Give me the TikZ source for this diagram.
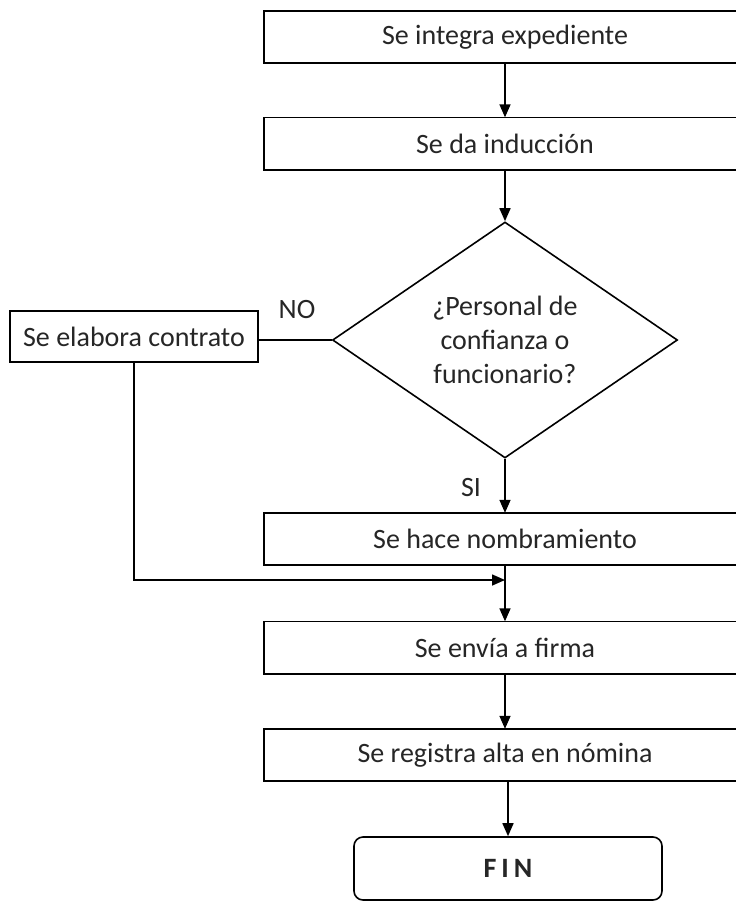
\documentclass[tikz,border=0pt]{standalone}
\usepackage{fontspec}
\setmainfont{Carlito}
\usetikzlibrary{shapes.geometric,arrows.meta}
\begin{document}
\begin{tikzpicture}[x=1pt,y=-1pt,
  every node/.style={font=\fontsize{28}{34}\selectfont, text=black!85},
  procbox/.style={rectangle, minimum width=482pt, minimum height=52pt, inner sep=0pt},
  sidebox/.style={draw, line width=1.6pt, rectangle, minimum width=248pt, minimum height=51pt, inner sep=0pt},
  decision/.style={draw, line width=1.6pt, diamond, minimum width=345pt, minimum height=236pt, inner sep=0pt, aspect=1.46, align=center},
  endbox/.style={draw, line width=1.6pt, rounded corners=9pt, minimum width=308pt, minimum height=63pt, inner sep=0pt},
  flow/.style={line width=1.6pt, -{Triangle[length=13pt,width=11pt]}},
  plain/.style={line width=1.6pt},
  lbl/.style={inner sep=0pt}]
\path[use as bounding box, clip] (0,0) rectangle (736,906);
\fill[white] (0,0) rectangle (736,906);

\node[procbox] (b1) at (505,37) {Se integra expediente};
\node[procbox] (b2) at (505,143.5) {Se da inducción};
\node[decision] (d) at (505,340) {¿Personal de\\confianza o\\funcionario?};
\node[sidebox] (c) at (134,336.5) {Se elabora contrato};
\node[procbox] (b3) at (505,539) {Se hace nombramiento};
\node[procbox] (b4) at (505,647.5) {Se envía a firma};
\node[procbox] (b5) at (505,755) {Se registra alta en nómina};
\node[endbox] (fin) at (508,868.5) {\bfseries F\hspace{5pt}I\hspace{5pt}N};

\foreach \n in {b1,b2,b3,b4,b5}
  \draw[plain] ([xshift=30pt]\n.north east) -- (\n.north west) -- (\n.south west) -- ([xshift=30pt]\n.south east);

\node[lbl] (no) at (297,310) {NO};
\node[lbl] (si) at (471,488) {SI};

\coordinate (j) at (505,580);

\draw[flow] (b1) -- (b2);
\draw[flow] (b2) -- (d);
\draw[plain] (d.west) -- (d.west -| c.east);
\draw[flow] (d) -- (b3);
\draw[flow] (b3) -- (b4);
\draw[flow] (c.south) |- (j);
\draw[flow] (b4) -- (b5);
\draw[flow] (b5.south -| fin.north) -- (fin);
\end{tikzpicture}
\end{document}
